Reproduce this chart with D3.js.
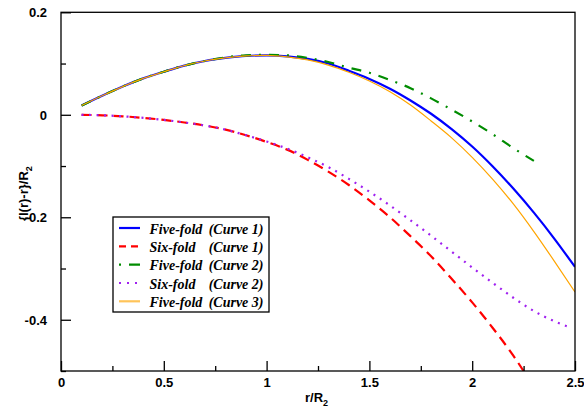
<!DOCTYPE html>
<html>
<head>
<meta charset="utf-8">
<script src="https://cdn.jsdelivr.net/npm/d3@7"></script>
<style>
  html, body { margin: 0; padding: 0; background: #fff; }
  svg { display: block; }
  .tick-label { font-family: "Liberation Sans", Arial, sans-serif; font-weight: bold; font-size: 13px; }
  .legend-text { font-family: "Liberation Serif", "Times New Roman", serif; font-weight: bold; font-style: italic; font-size: 14px; }
</style>
</head>
<body>
<svg id="chart" width="584" height="407"></svg>
<script>
// ---- data ----
const xTicks = [0, 0.5, 1, 1.5, 2, 2.5];
const xTickLabels = ["0", "0.5", "1", "1.5", "2", "2.5"];
const yTicks = [0.2, 0, -0.2, -0.4];
const yTickLabels = ["0.2", "0", "-0.2", "-0.4"];
const xMinorTicks = [0.25, 0.75, 1.25, 1.75, 2.25];
const yMinorTicks = [0.1, -0.1, -0.3, -0.5];

const rFull = [0.1,0.2,0.3,0.4,0.5,0.6,0.7,0.8,0.9,1.0,1.1,1.2,1.3,1.4,1.5,1.6,1.7,1.8,1.9,2.0,2.1,2.2,2.3,2.4,2.5];
const fiveFoldCurve1 = [0.018,0.037,0.055,0.071,0.084,0.096,0.105,0.111,0.115,0.116,0.114,0.109,0.100,0.086,0.070,0.051,0.028,0.002,-0.028,-0.062,-0.101,-0.144,-0.191,-0.242,-0.297];
const fiveFoldCurve3 = [0.018,0.037,0.055,0.071,0.084,0.096,0.105,0.111,0.115,0.116,0.113,0.107,0.097,0.083,0.066,0.045,0.019,-0.012,-0.045,-0.083,-0.126,-0.174,-0.228,-0.286,-0.346];

const rFiveFold2 = [0.1,0.2,0.3,0.4,0.5,0.6,0.7,0.8,0.9,1.0,1.1,1.2,1.3,1.4,1.5,1.6,1.7,1.8,1.9,2.0,2.1,2.2,2.3];
const fiveFoldCurve2 = [0.018,0.037,0.055,0.071,0.084,0.096,0.105,0.112,0.116,0.117,0.116,0.111,0.103,0.092,0.082,0.068,0.052,0.032,0.010,-0.013,-0.038,-0.065,-0.090];

const rSixFold1 = [0.1,0.2,0.3,0.4,0.5,0.6,0.7,0.8,0.9,1.0,1.1,1.2,1.3,1.4,1.5,1.6,1.7,1.8,1.9,2.0,2.1,2.2,2.25];
const sixFoldCurve1 = [0,-0.001,-0.003,-0.006,-0.010,-0.015,-0.021,-0.029,-0.040,-0.053,-0.068,-0.088,-0.111,-0.137,-0.167,-0.200,-0.237,-0.276,-0.320,-0.366,-0.416,-0.470,-0.500];

const rSixFold2 = [0.1,0.2,0.3,0.4,0.5,0.6,0.7,0.8,0.9,1.0,1.1,1.2,1.3,1.4,1.5,1.6,1.7,1.8,1.9,2.0,2.1,2.2,2.3,2.4,2.47];
const sixFoldCurve2 = [0,-0.001,-0.003,-0.006,-0.010,-0.015,-0.021,-0.029,-0.040,-0.052,-0.066,-0.083,-0.102,-0.125,-0.150,-0.177,-0.206,-0.236,-0.267,-0.298,-0.328,-0.357,-0.383,-0.403,-0.414];

const seriesNames = ["Five-fold", "Six-fold", "Five-fold", "Six-fold", "Five-fold"];
const seriesCurves = ["(Curve 1)", "(Curve 1)", "(Curve 2)", "(Curve 2)", "(Curve 3)"];

// ---- styles ----
const styles = [
  { color: "#0000ff", width: 2.2, dash: null },
  { color: "#ff0000", width: 2.2, dash: "10,6" },
  { color: "#008c00", width: 2.2, dash: "10,8,2,8" },
  { color: "#a020f0", width: 2.2, dash: "2,5.5" },
  { color: "#ffa500", width: 1.2, dash: null }
];

const series = [
  { r: rFull, v: fiveFoldCurve1 },
  { r: rSixFold1, v: sixFoldCurve1 },
  { r: rFiveFold2, v: fiveFoldCurve2 },
  { r: rSixFold2, v: sixFoldCurve2 },
  { r: rFull, v: fiveFoldCurve3 }
];

const svg = d3.select("#chart");
const L = 61, R = 575, T = 12.3, B = 371;
const x = d3.scaleLinear().domain([0, 2.5]).range([L, R]);
const y = d3.scaleLinear().domain([-0.5, 0.2]).range([B, T]);

// clip
svg.append("defs").append("clipPath").attr("id", "clip")
  .append("rect").attr("x", L).attr("y", T).attr("width", R - L).attr("height", B - T);

const line = d3.line().x(d => x(d[0])).y(d => y(d[1])).curve(d3.curveMonotoneX);
const g = svg.append("g").attr("clip-path", "url(#clip)");
series.forEach((s, i) => {
  const pts = s.r.map((r, k) => [r, s.v[k]]);
  g.append("path").datum(pts)
    .attr("d", line)
    .attr("fill", "none")
    .attr("stroke", styles[i].color)
    .attr("stroke-width", styles[i].width)
    .attr("stroke-dasharray", styles[i].dash)
    .attr("stroke-linejoin", "round");
});

// frame
svg.append("rect").attr("x", L).attr("y", T).attr("width", R - L).attr("height", B - T)
  .attr("fill", "none").attr("stroke", "#000").attr("stroke-width", 1.3);

// axes with inward ticks
const xAxis = d3.axisBottom(x).tickValues(xTicks).tickSize(-10).tickFormat((d, i) => xTickLabels[i]).tickPadding(16);
const xg = svg.append("g").attr("transform", `translate(0,${B})`).call(xAxis);
xg.select(".domain").remove();
xg.selectAll("line").attr("stroke", "#000").attr("stroke-width", 1.3);
xg.selectAll("text").attr("class", "tick-label").attr("fill", "#000").attr("dy", "0").attr("y", 16);
const xmg = svg.append("g").attr("transform", `translate(0,${B})`).call(d3.axisBottom(x).tickValues(xMinorTicks).tickSize(-5).tickFormat(""));
xmg.select(".domain").remove();
xmg.selectAll("line").attr("stroke", "#000").attr("stroke-width", 1.3);

const yAxis = d3.axisLeft(y).tickValues(yTicks).tickSize(-10).tickFormat((d, i) => yTickLabels[i]).tickPadding(14);
const yg = svg.append("g").attr("transform", `translate(${L},0)`).call(yAxis);
yg.select(".domain").remove();
yg.selectAll("line").attr("stroke", "#000").attr("stroke-width", 1.3);
yg.selectAll("text").attr("class", "tick-label").attr("fill", "#000").attr("dy", "0.35em");
const ymg = svg.append("g").attr("transform", `translate(${L},0)`).call(d3.axisLeft(y).tickValues(yMinorTicks).tickSize(-5).tickFormat(""));
ymg.select(".domain").remove();
ymg.selectAll("line").attr("stroke", "#000").attr("stroke-width", 1.3);

// axis titles
const xt = svg.append("text").attr("class", "tick-label").attr("x", 305).attr("y", 402);
xt.append("tspan").text("r/R");
xt.append("tspan").attr("dy", 4).attr("font-size", "9px").text("2");

const yt = svg.append("text").attr("class", "tick-label")
  .attr("transform", `translate(28,${(T + B) / 2 + 2}) rotate(-90)`).attr("text-anchor", "middle");
yt.append("tspan").text("{l(r)-r}/R");
yt.append("tspan").attr("dy", 4).attr("font-size", "9px").text("2");

// legend
const lg = svg.append("g");
lg.append("rect").attr("x", 113).attr("y", 217).attr("width", 156).attr("height", 95)
  .attr("fill", "#fff").attr("stroke", "#000").attr("stroke-width", 1.3);
const rowY = [228, 246.3, 264.6, 283, 301.3];
const legDash = [null, "7,5", "2,8,15,0", "2,6", null];
seriesNames.forEach((name, i) => {
  const yy = rowY[i];
  lg.append("line").attr("x1", 119).attr("x2", 140).attr("y1", yy).attr("y2", yy)
    .attr("stroke", styles[i].color)
    .attr("stroke-opacity", i === 4 ? 0.65 : 1)
    .attr("stroke-width", i === 4 ? 2.2 : styles[i].width)
    .attr("stroke-dasharray", legDash[i]);
  lg.append("text").attr("class", "legend-text").attr("x", 149.5).attr("y", yy + 5.5).text(name);
  lg.append("text").attr("class", "legend-text").attr("x", 263.5).attr("y", yy + 5.5)
    .attr("text-anchor", "end").text(seriesCurves[i]);
});
</script>
</body>
</html>
